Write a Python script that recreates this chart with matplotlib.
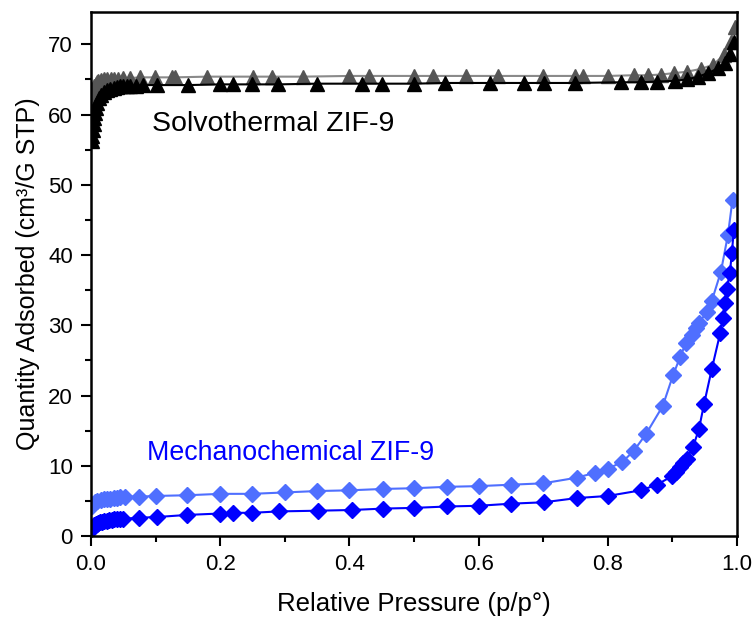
import matplotlib
matplotlib.use('Agg')
import matplotlib.pyplot as plt
from matplotlib.ticker import MultipleLocator

plt.rcParams['font.family'] = ['Liberation Sans', 'DejaVu Sans']

# Solvothermal ZIF-9, adsorption branch
solvo_ads_p = [0.001, 0.002, 0.003, 0.004, 0.005, 0.006, 0.008, 0.010, 0.013,
               0.016, 0.020, 0.025, 0.030, 0.035, 0.040, 0.045, 0.050, 0.055,
               0.060, 0.070, 0.080, 0.102, 0.150, 0.200, 0.220, 0.249, 0.289,
               0.350, 0.420, 0.450, 0.500, 0.548, 0.618, 0.670, 0.701, 0.749,
               0.820, 0.851, 0.876, 0.904, 0.922, 0.940, 0.955, 0.971, 0.981,
               0.989, 0.995]
solvo_ads_q = [56.3, 57.0, 57.8, 58.7, 59.5, 60.2, 61.0, 61.7, 62.3,
               62.8, 63.2, 63.5, 63.7, 63.8, 63.9, 64.0, 64.0, 64.1,
               64.1, 64.1, 64.2, 64.2, 64.2, 64.3, 64.3, 64.3, 64.3,
               64.4, 64.4, 64.4, 64.4, 64.5, 64.5, 64.5, 64.5, 64.5,
               64.6, 64.6, 64.7, 64.8, 65.0, 65.4, 65.9, 66.6, 67.4,
               68.6, 70.3]

# Solvothermal ZIF-9, desorption branch
solvo_des_p = [0.0005, 0.001, 0.002, 0.003, 0.004, 0.005, 0.007, 0.009, 0.011,
               0.015, 0.020, 0.025, 0.031, 0.036, 0.042, 0.050, 0.060, 0.076,
               0.099, 0.125, 0.130, 0.180, 0.250, 0.280, 0.328, 0.400, 0.430,
               0.500, 0.529, 0.580, 0.630, 0.700, 0.749, 0.762, 0.800, 0.840,
               0.862, 0.882, 0.902, 0.922, 0.944, 0.963, 0.980, 0.990, 0.997]
solvo_des_q = [61.5, 62.2, 62.8, 63.3, 63.7, 64.0, 64.3, 64.6, 64.8,
               64.9, 65.0, 65.0, 65.1, 65.1, 65.1, 65.2, 65.2, 65.3,
               65.3, 65.3, 65.3, 65.4, 65.4, 65.4, 65.4, 65.5, 65.5,
               65.5, 65.5, 65.5, 65.5, 65.5, 65.5, 65.5, 65.5, 65.6,
               65.6, 65.7, 65.9, 66.1, 66.5, 67.1, 68.5, 70.4, 72.4]

# Mechanochemical ZIF-9, adsorption branch
mech_ads_p = [0.001, 0.002, 0.003, 0.005, 0.007, 0.009, 0.011, 0.014, 0.017,
              0.020, 0.024, 0.028, 0.032, 0.036, 0.040, 0.045, 0.050, 0.074,
              0.102, 0.149, 0.200, 0.220, 0.249, 0.291, 0.351, 0.404, 0.452,
              0.500, 0.551, 0.600, 0.650, 0.701, 0.752, 0.800, 0.851, 0.876,
              0.899, 0.906, 0.912, 0.917, 0.922, 0.932, 0.941, 0.949, 0.961,
              0.974, 0.978, 0.981, 0.984, 0.989, 0.992, 0.995]
mech_ads_q = [1.0, 1.2, 1.35, 1.5, 1.65, 1.75, 1.85, 1.95, 2.05,
              2.1, 2.2, 2.25, 2.3, 2.35, 2.4, 2.45, 2.45, 2.6,
              2.7, 3.0, 3.2, 3.3, 3.3, 3.5, 3.6, 3.7, 3.9,
              4.0, 4.2, 4.3, 4.6, 4.8, 5.4, 5.7, 6.5, 7.3,
              8.5, 9.1, 9.8, 10.4, 11.0, 12.7, 15.2, 18.8, 23.8,
              28.9, 31.1, 33.2, 35.2, 37.5, 40.3, 43.5]

# Mechanochemical ZIF-9, desorption branch
mech_des_p = [0.001, 0.003, 0.006, 0.010, 0.015, 0.020, 0.025, 0.030, 0.035,
              0.040, 0.045, 0.053, 0.074, 0.100, 0.149, 0.200, 0.249, 0.300,
              0.350, 0.400, 0.452, 0.500, 0.551, 0.600, 0.650, 0.700, 0.752,
              0.780, 0.800, 0.822, 0.840, 0.859, 0.885, 0.901, 0.912, 0.921,
              0.930, 0.937, 0.941, 0.953, 0.961, 0.975, 0.986, 0.993]
mech_des_q = [4.2, 4.6, 4.9, 5.0, 5.1, 5.2, 5.3, 5.3, 5.4,
              5.4, 5.5, 5.6, 5.6, 5.7, 5.8, 6.0, 6.0, 6.2,
              6.4, 6.5, 6.7, 6.8, 7.0, 7.1, 7.3, 7.5, 8.3,
              9.0, 9.6, 10.5, 12.1, 14.5, 18.5, 22.9, 25.5, 27.5,
              28.6, 29.6, 30.3, 31.9, 33.5, 37.6, 42.9, 47.9]

fig = plt.figure(figsize=(7.56, 6.17), dpi=100)
ax = fig.add_axes([0.1204, 0.1313, 0.8545, 0.8492])

ax.plot(solvo_des_p, solvo_des_q, '-', color='#8a8a8a', lw=1.5,
        marker='^', ms=10.5, mfc='#555555', mec='#555555')
ax.plot(solvo_ads_p, solvo_ads_q, '-', color='black', lw=1.5,
        marker='^', ms=10.5, mfc='black', mec='black')
ax.plot(mech_des_p, mech_des_q, '-', color='#4f6fff', lw=1.5,
        marker='D', ms=8.5, mfc='#4f6fff', mec='#4f6fff')
ax.plot(mech_ads_p, mech_ads_q, '-', color='#0000ff', lw=1.5,
        marker='D', ms=8.5, mfc='#0000ff', mec='#0000ff')

ax.text(0.094, 58.7, 'Solvothermal ZIF-9', fontsize=20.5, color='black',
        va='center', ha='left')
ax.text(0.087, 11.8, 'Mechanochemical ZIF-9', fontsize=19.3, color='#0000ff',
        va='center', ha='left')

ax.set_xlim(0, 1.0)
ax.set_ylim(0, 74.6)
ax.xaxis.set_major_locator(MultipleLocator(0.2))
ax.xaxis.set_minor_locator(MultipleLocator(0.1))
ax.yaxis.set_major_locator(MultipleLocator(10))
ax.yaxis.set_minor_locator(MultipleLocator(5))
ax.xaxis.set_major_formatter(plt.FuncFormatter(lambda v, _: f'{v:.1f}'))
ax.tick_params(which='both', direction='out', width=1.5, labelsize=16,
               top=False, right=False)
ax.tick_params(which='major', length=7, pad=6)
ax.tick_params(which='minor', length=4)
for sp in ax.spines.values():
    sp.set_linewidth(1.8)

ax.set_xlabel('Relative Pressure (p/p°)', fontsize=18.5, labelpad=12)
ax.set_ylabel('Quantity Adsorbed (cm³/G STP)', fontsize=18, labelpad=6)

fig.savefig('out.png', dpi=100)
